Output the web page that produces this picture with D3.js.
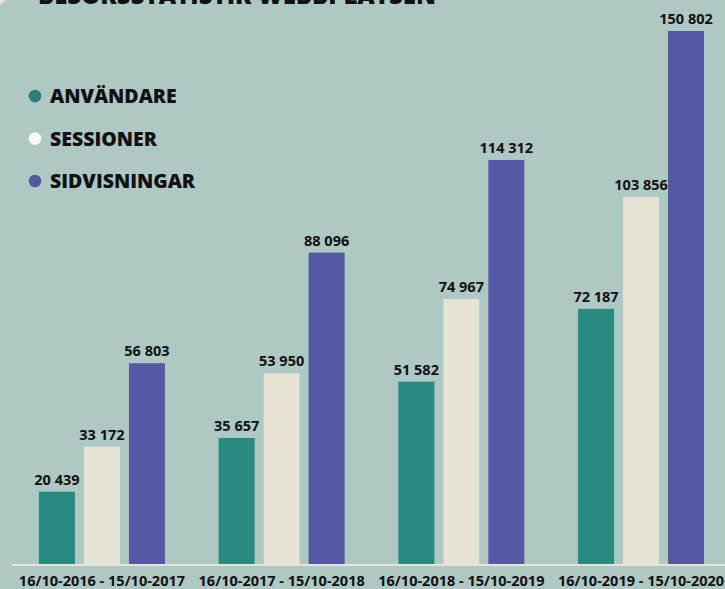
<!DOCTYPE html>
<html><head><meta charset="utf-8">
<script src="https://cdn.jsdelivr.net/npm/d3@7"></script>
<style>html,body{margin:0;padding:0;background:#aec8c4;overflow:hidden}svg{display:block}</style>
</head><body>
<script>
const periods = ["16/10-2016 - 15/10-2017","16/10-2017 - 15/10-2018","16/10-2018 - 15/10-2019","16/10-2019 - 15/10-2020"];
const seriesNames = ["ANVÄNDARE","SESSIONER","SIDVISNINGAR"];
const anvandare = [20439, 35657, 51582, 72187];
const sessioner = [33172, 53950, 74967, 103856];
const sidvisningar = [56803, 88096, 114312, 150802];
const seriesColors = ["#288a80","#e6e3d5","#5559a4"];
const legendDotColors = ["#2a7d78","#fafafa","#5559a4"];
const titleText = "BESÖKSSTATISTIK WEBBPLATSEN";

const W = 725, H = 589;
const series = [anvandare, sessioner, sidvisningar];
const fmt = v => d3.format(",")(v).replace(/,/g, " ");

const svg = d3.select("body").append("svg").attr("width", W).attr("height", H);
svg.append("rect").attr("width", W).attr("height", H).attr("fill", "#aec8c4");
svg.append("path").attr("d", "M0,0L6,0L0,5Z").attr("fill", "#e6e3d5");

const font = "'Open Sans', 'Noto Sans', sans-serif";

// Title (cut off at the top, as in the reference)
svg.append("text").attr("x", 38).attr("y", 3.5).text(titleText)
  .attr("font-family", font).attr("font-weight", 800).attr("font-size", 24)
  .attr("fill", "#111");

const x0 = d3.scaleBand().domain(periods).range([12, 731]).paddingInner(0.299).paddingOuter(0.15);
const x1 = d3.scaleBand().domain(seriesNames).range([0, x0.bandwidth()]).paddingInner(0.2).paddingOuter(0);
const y = d3.scaleLinear().domain([0, d3.max(sidvisningar)]).range([564, 31]);

const rows = [];
periods.forEach((p, i) => seriesNames.forEach((s, j) => rows.push({p, s, j, v: series[j][i]})));

const g = svg.append("g");
g.selectAll("rect.bar").data(rows).join("rect").attr("class", "bar")
  .attr("x", d => x0(d.p) + x1(d.s))
  .attr("y", d => y(d.v))
  .attr("width", x1.bandwidth())
  .attr("height", d => y(0) - y(d.v))
  .attr("fill", d => seriesColors[d.j]);

g.selectAll("text.val").data(rows).join("text").attr("class", "val")
  .attr("x", d => x0(d.p) + x1(d.s) + x1.bandwidth() / 2)
  .attr("y", d => y(d.v) - 7)
  .attr("text-anchor", "middle")
  .attr("font-family", font).attr("font-weight", 700).attr("font-size", 14.5)
  .attr("fill", "#111")
  .text(d => fmt(d.v));

// baseline
svg.append("line").attr("x1", 12).attr("x2", W).attr("y1", y(0) + 1).attr("y2", y(0) + 1)
  .attr("stroke", "#e6e3d5").attr("stroke-width", 2);

// x axis labels
const xAxis = d3.axisBottom(x0).tickSize(0).tickPadding(0);
const ax = svg.append("g").attr("transform", `translate(0,${y(0)})`).call(xAxis);
ax.select(".domain").remove();
ax.selectAll("text").attr("dy", null).attr("y", 22)
  .attr("font-family", font).attr("font-weight", 700).attr("font-size", 14.5)
  .attr("fill", "#111");

// legend
const leg = svg.append("g");
const legY = d3.scalePoint().domain(seriesNames).range([96, 181]);
seriesNames.forEach((s, j) => {
  leg.append("circle").attr("cx", 35).attr("cy", legY(s)).attr("r", 6.3).attr("fill", legendDotColors[j]);
  leg.append("text").attr("x", 50).attr("y", legY(s) + 7).text(s)
    .attr("font-family", font).attr("font-weight", 800).attr("font-size", 19.5).attr("fill", "#111");
});
</script>
</body></html>
